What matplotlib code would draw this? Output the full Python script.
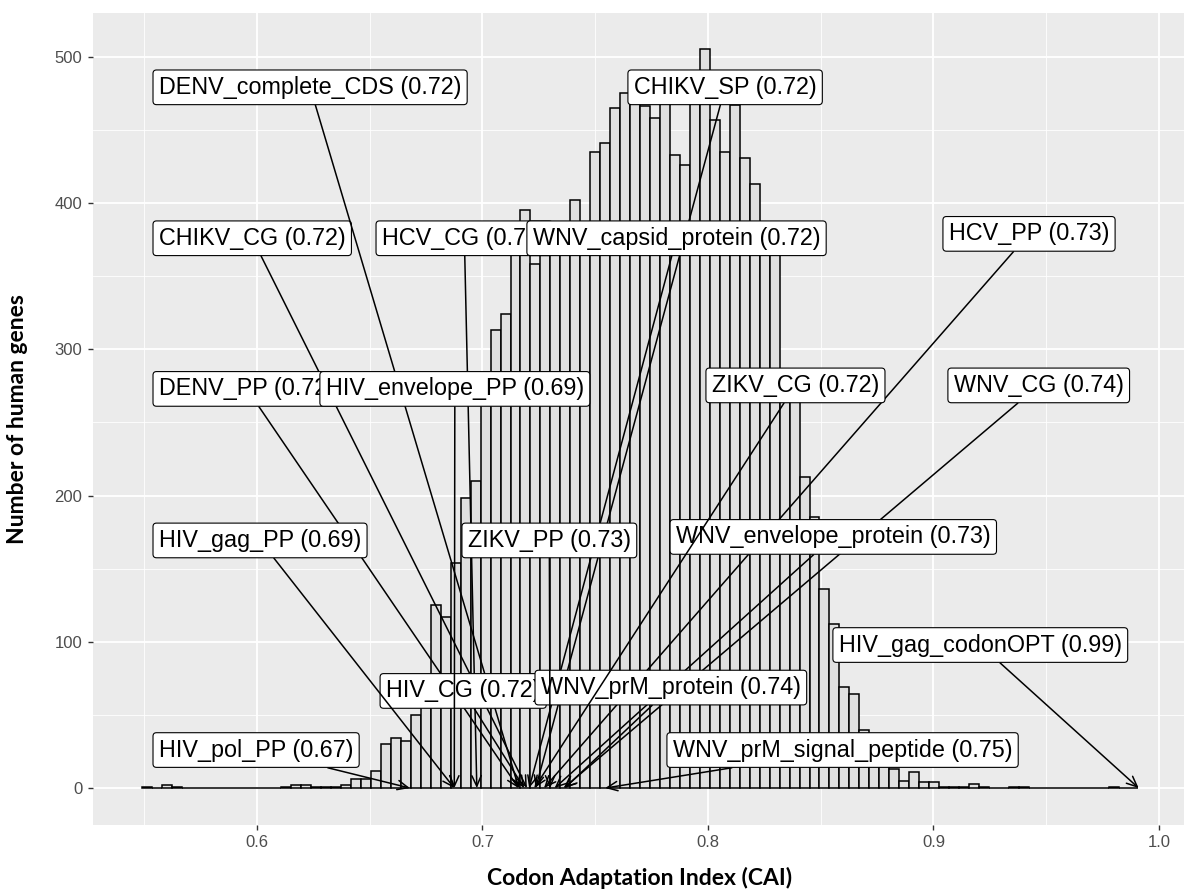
import numpy as np
import matplotlib.pyplot as plt
import matplotlib as mpl
from matplotlib.transforms import ScaledTranslation

# CAI histogram of human genes (100 bins between the range ends)
cai_min = 0.5489
cai_max = 0.9909
gene_counts = [1, 0, 2, 1, 0, 0, 0, 0, 0, 0,
               0, 0, 0, 0, 1, 2, 2, 1, 1, 1,
               2, 6, 6, 12, 30, 34, 32, 50, 66, 125,
               117, 154, 198, 210, 272, 313, 324, 375, 395, 358,
               372, 380, 384, 402, 376, 435, 441, 465, 475, 480,
               466, 458, 476, 433, 426, 478, 505, 457, 435, 467,
               431, 413, 370, 366, 280, 272, 213, 185, 136, 112,
               69, 64, 40, 28, 20, 13, 5, 11, 4, 4,
               1, 1, 1, 3, 1, 0, 0, 1, 1, 0,
               0, 0, 0, 0, 0, 0, 0, 1, 0, 0]

# viral genes and their CAI
virus_genes = ["CHIKV_CG", "CHIKV_SP", "DENV_complete_CDS", "DENV_PP", "HCV_CG",
               "HCV_PP", "HIV_CG", "HIV_envelope_PP", "HIV_gag_codonOPT",
               "HIV_gag_PP", "HIV_pol_PP", "WNV_capsid_protein", "WNV_CG",
               "WNV_envelope_protein", "WNV_prM_protein", "WNV_prM_signal_peptide",
               "ZIKV_CG", "ZIKV_PP"]
virus_cai = [0.7197, 0.7236, 0.7161, 0.7160, 0.6975,
             0.7273, 0.7185, 0.6875, 0.9910,
             0.6875, 0.6678, 0.7207, 0.7360,
             0.7320, 0.7365, 0.7544,
             0.7230, 0.7300]

# where the repelled labels ended up (left edge of box, vertical centre)
label_left = [0.5539, 0.7645, 0.5539, 0.5539, 0.6528,
              0.9042, 0.6546, 0.6279, 0.8554,
              0.5539, 0.5539, 0.7197, 0.9064,
              0.7832, 0.7233, 0.7818,
              0.7991, 0.6909]
label_y = [375.9, 479.1, 479.1, 272.9, 375.9,
           378.9, 66.4, 272.9, 97.8,
           169.3, 26.0, 375.9, 275.3,
           171.7, 68.7, 26.0,
           275.3, 169.3]

W, H = 1184, 894
fig = plt.figure(figsize=(W / 100, H / 100), dpi=100)
ax = fig.add_axes([92.8 / W, (H - 825) / H, (W - 92.8) / W, 812.5 / H])
ax.set_facecolor("#EBEBEB")

edges = np.linspace(cai_min, cai_max, len(gene_counts) + 1)
ax.bar(edges[:-1], gene_counts, width=np.diff(edges), align="edge",
       color="#E0E0E0", edgecolor="black", linewidth=1.1, zorder=2)

ax.set_xlim(0.5272, 1.0111)
ax.set_ylim(-25.25, 530.25)
ax.set_xticks([0.6, 0.7, 0.8, 0.9, 1.0])
ax.set_xticklabels(["0.6", "0.7", "0.8", "0.9", "1.0"])
ax.set_xticks([0.55, 0.65, 0.75, 0.85, 0.95], minor=True)
ax.set_yticks([0, 100, 200, 300, 400, 500])
ax.set_yticks([50, 150, 250, 350, 450], minor=True)
ax.grid(which="major", color="white", linewidth=1.3, zorder=0)
ax.grid(which="minor", color="white", linewidth=0.6, zorder=0)
ax.set_axisbelow(True)
for s in ax.spines.values():
    s.set_visible(False)
ax.tick_params(which="major", length=3.5, width=1.0, color="#333333",
               labelsize=12, labelcolor="#4D4D4D", pad=4)
ax.tick_params(which="minor", length=0)
for t in ax.get_xticklabels() + ax.get_yticklabels():
    t.set_family("Liberation Sans")

# labels with arrows, drawn in order so later boxes sit over earlier ones
fs = 16.8
pad = 0.25
shift = ScaledTranslation(pad * fs / 72, 0, fig.dpi_scale_trans)
for name, cai, lx, ly in zip(virus_genes, virus_cai, label_left, label_y):
    ax.annotate(f"{name} ({cai:.2f})", xy=(cai, 0), xytext=(lx, ly),
                textcoords=ax.transData + shift, ha="left", va="center",
                fontsize=fs, family="Liberation Sans", color="black",
                bbox=dict(boxstyle=f"round,pad={pad},rounding_size=0.15",
                          fc="white", ec="black", lw=0.8),
                arrowprops=dict(arrowstyle="->,head_length=0.45,head_width=0.2",
                                color="black", lw=1.1, shrinkA=0, shrinkB=0),
                zorder=3, annotation_clip=False)

fig.text(640 / W, 1 - 878 / H, "Codon Adaptation Index (CAI)", ha="center",
         va="center", fontsize=16.5, fontweight="bold", family="Lato")
fig.text(18 / W, 1 - 419 / H, "Number of human genes", ha="center",
         va="center", rotation=90, fontsize=16.5, fontweight="bold", family="Lato")

fig.savefig("out.png", dpi=100)
